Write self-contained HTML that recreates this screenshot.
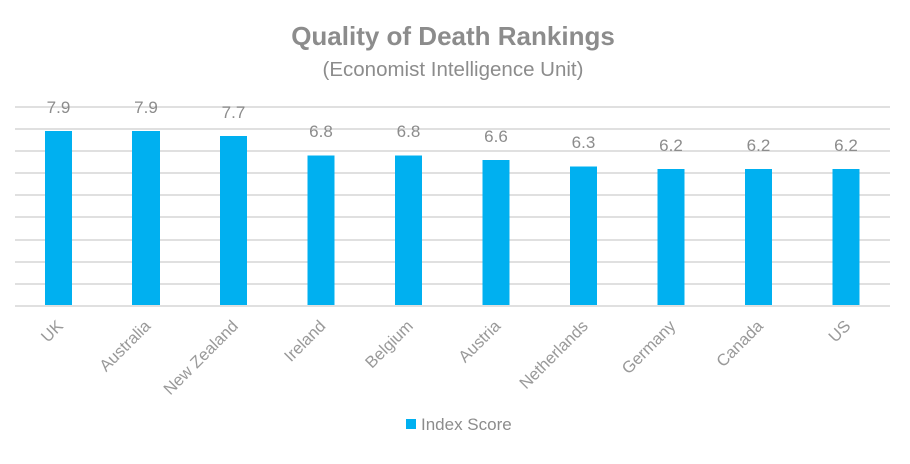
<!DOCTYPE html>
<html><head><meta charset="utf-8"><style>body{margin:0;background:#fff}</style></head><body>
<svg width="910" height="459" xmlns="http://www.w3.org/2000/svg" font-family="'Liberation Sans', sans-serif">
<rect width="910" height="459" fill="#fff"/>
<text x="453" y="45" text-anchor="middle" font-size="26" font-weight="bold" fill="#8c8c8c">Quality of Death Rankings</text>
<text x="453" y="76" text-anchor="middle" font-size="20.5" fill="#8c8c8c">(Economist Intelligence Unit)</text>
<g stroke="#e0e0e0" stroke-width="2">
<line x1="15" x2="890" y1="107" y2="107"/><line x1="15" x2="890" y1="129" y2="129"/><line x1="15" x2="890" y1="151" y2="151"/><line x1="15" x2="890" y1="173" y2="173"/><line x1="15" x2="890" y1="195" y2="195"/><line x1="15" x2="890" y1="217" y2="217"/><line x1="15" x2="890" y1="240" y2="240"/><line x1="15" x2="890" y1="262" y2="262"/><line x1="15" x2="890" y1="284" y2="284"/><line x1="15" x2="890" y1="306" y2="306"/>
</g>
<g fill="#00b0f0">
<rect x="45" y="131" width="27" height="174"/>
<rect x="132" y="131" width="28" height="174"/>
<rect x="220" y="136" width="27" height="169"/>
<rect x="307.5" y="155.5" width="27" height="149.5"/>
<rect x="395" y="155.5" width="27" height="149.5"/>
<rect x="482.5" y="160" width="27" height="145"/>
<rect x="570" y="166.5" width="27" height="138.5"/>
<rect x="657.5" y="169" width="27" height="136"/>
<rect x="745" y="169" width="27" height="136"/>
<rect x="832.5" y="169" width="27" height="136"/>
</g>
<g font-size="17" fill="#8c8c8c" text-anchor="middle">
<text x="58.5" y="113">7.9</text><text x="146" y="113">7.9</text><text x="233.5" y="118">7.7</text><text x="321" y="137">6.8</text><text x="408.5" y="137">6.8</text><text x="496" y="142">6.6</text><text x="583.5" y="148">6.3</text><text x="671" y="151">6.2</text><text x="758.5" y="151">6.2</text><text x="846" y="151">6.2</text>
</g>
<g font-size="16.5" fill="#999" text-anchor="end">
<text transform="translate(64,327) rotate(-45)">UK</text>
<text transform="translate(151.5,327) rotate(-45)">Australia</text>
<text transform="translate(239,327) rotate(-45)">New Zealand</text>
<text transform="translate(326.5,327) rotate(-45)">Ireland</text>
<text transform="translate(414,327) rotate(-45)">Belgium</text>
<text transform="translate(501.5,327) rotate(-45)">Austria</text>
<text transform="translate(589,327) rotate(-45)">Netherlands</text>
<text transform="translate(676.5,327) rotate(-45)">Germany</text>
<text transform="translate(764,327) rotate(-45)">Canada</text>
<text transform="translate(851.5,327) rotate(-45)">US</text>
</g>
<rect x="406" y="419" width="10" height="10" fill="#00b0f0"/>
<text x="421" y="430" font-size="17" fill="#8c8c8c">Index Score</text>
</svg>
</body></html>
